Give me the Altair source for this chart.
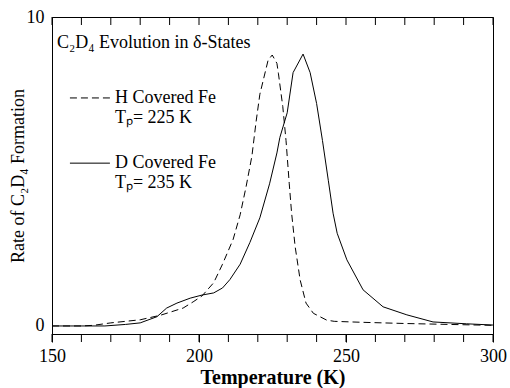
import altair as alt
import pandas as pd

# H covered Fe (dashed)
h_temp = [150, 160, 164, 170, 180, 187, 194.6, 198, 201, 205, 208, 211.6, 214, 216, 218, 219.4,
          220.7, 223.5, 224.9, 226.5, 227, 228.5, 229.6, 230.7, 231.5, 232.7, 234.4, 236.4,
          238.9, 243.4, 246, 255, 270, 285, 300]
h_rate = [0, 0, 0.02, 0.1, 0.2, 0.35, 0.58, 0.78, 0.97, 1.4, 2.0, 2.8, 3.6, 4.5, 5.5, 6.6,
          7.5, 8.6, 8.77, 8.5, 8.18, 7.1, 6.0, 4.6, 3.65, 2.57, 1.49, 0.74,
          0.41, 0.19, 0.15, 0.12, 0.08, 0.05, 0.02]

# D covered Fe (solid)
d_temp = [150, 168, 175, 180, 185.7, 189, 192.5, 197, 201, 205, 208, 210.5, 214, 217.3, 220.7,
          224, 226.5, 227.5, 230, 232, 235.4, 237.8, 240, 242, 244, 245.6, 247, 250.3, 255.8,
          262.6, 270.7, 279.6, 291, 300]
d_rate = [0, 0, 0.05, 0.1, 0.3, 0.58, 0.74, 0.9, 1.0, 1.07, 1.23, 1.5, 2.0, 2.7, 3.5,
          4.6, 5.6, 6.1, 6.9, 8.2, 8.8, 8.2, 7.2, 6.0, 4.7, 3.65, 3.0, 2.14, 1.17,
          0.62, 0.36, 0.13, 0.07, 0.03]

x_ticks = list(range(150, 301, 10))
x_labels = [150, 200, 250, 300]
y_labels = [0, 10]

FONT = "Liberation Serif"

df = pd.concat([
    pd.DataFrame({"T": h_temp, "rate": h_rate, "s": "H"}),
    pd.DataFrame({"T": d_temp, "rate": d_rate, "s": "D"}),
])

xs = alt.Scale(domain=[150, 300], nice=False, zero=False)
ys = alt.Scale(domain=[-0.26, 10], nice=False, zero=False)

xaxis = alt.Axis(values=x_labels, title="Temperature (K)", tickSize=8, tickColor="black",
                 domainColor="black", labelFont=FONT, labelFontSize=18, labelColor="black",
                 labelPadding=5, labelFlush=False,
                 titleFont=FONT, titleFontSize=20, titleFontWeight="bold", titleColor="black",
                 titleY=49, titleBaseline="alphabetic", grid=False)
yaxis = alt.Axis(values=y_labels, title="Rate of C₂D₄ Formation", tickSize=0, domainColor="black",
                 labelFont=FONT, labelFontSize=18, labelColor="black", labelPadding=8,
                 titleFont=FONT, titleFontSize=18, titleFontWeight="normal", titleColor="black",
                 titleX=-34, titleBaseline="middle", grid=False)

texts = pd.DataFrame({
    "x": [151.7, 171.4, 171.4, 171.4, 171.4],
    "y": [9.16, 7.38, 6.73, 5.27, 4.63],
    "t": ["C₂D₄  Evolution in δ-States", "H Covered Fe", "Tₚ= 225 K", "D Covered Fe", "Tₚ= 235 K"],
})
txt = alt.Chart(texts).mark_text(font=FONT, fontSize=18, align="left", baseline="middle", color="black").encode(
    x=alt.X("x:Q", scale=xs, axis=xaxis), y=alt.Y("y:Q", scale=ys, axis=yaxis), text="t:N")

h_line = alt.Chart(df[df.s == "H"]).mark_line(color="black", strokeWidth=1, strokeDash=[7, 4]).encode(
    x=alt.X("T:Q", scale=xs), y=alt.Y("rate:Q", scale=ys))
d_line = alt.Chart(df[df.s == "D"]).mark_line(color="black", strokeWidth=1).encode(
    x=alt.X("T:Q", scale=xs), y=alt.Y("rate:Q", scale=ys))

tick_df = pd.DataFrame({"T": x_ticks})
top_ticks = alt.Chart(tick_df).mark_rule(color="black", strokeWidth=1).encode(
    x=alt.X("T:Q", scale=xs), y=alt.value(0), y2=alt.value(8))
bot_ticks = alt.Chart(tick_df).mark_rule(color="black", strokeWidth=1).encode(
    x=alt.X("T:Q", scale=xs), y=alt.value(317), y2=alt.value(325))

leg_lines = pd.DataFrame({"x1": [156.1, 156.1], "x2": [169.7, 169.7], "y": [7.38, 5.27],
                          "s": ["H", "D"]})
leg_h = alt.Chart(leg_lines[leg_lines.s == "H"]).mark_rule(color="black", strokeWidth=1, strokeDash=[7, 4]).encode(
    x=alt.X("x1:Q", scale=xs), x2="x2:Q", y=alt.Y("y:Q", scale=ys))
leg_d = alt.Chart(leg_lines[leg_lines.s == "D"]).mark_rule(color="black", strokeWidth=1).encode(
    x=alt.X("x1:Q", scale=xs), x2="x2:Q", y=alt.Y("y:Q", scale=ys))

chart = alt.layer(txt, h_line, d_line, top_ticks, bot_ticks, leg_h, leg_d).properties(
    width=441, height=317, autosize="none",
    padding={"left": 52, "top": 17, "right": 17, "bottom": 54},
    background="white",
).configure_view(stroke="black", strokeWidth=1)

chart.save("out.html", embed_options={"renderer": "svg", "actions": False})
